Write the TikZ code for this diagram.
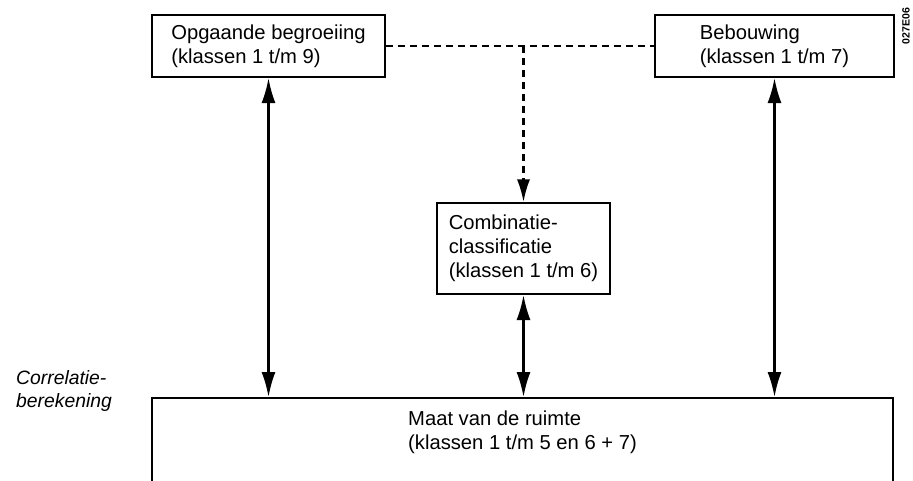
\documentclass[tikz,border=0pt]{standalone}
\usepackage{fontspec}
\setmainfont{Liberation Sans}
\usetikzlibrary{arrows.meta,positioning}

\begin{document}
\begin{tikzpicture}[
    box/.style={draw,line width=1.2pt,align=left,inner sep=0pt,font=\fontsize{11.5}{13.6}\selectfont},
    tweezijdig/.style={line width=1.2pt,{Latex[length=5mm,width=2.8mm]}-{Latex[length=5mm,width=2.8mm]}},
    stippel/.style={line width=1.2pt,dash pattern=on 1.4mm off 1mm}]
  \useasboundingbox (0,0) rectangle (18.26,-9.6);
  % bronkaarten bovenaan
  \node[box,minimum width=4.66cm,minimum height=1.24cm] (opg) at (5.37,-0.92) {Opgaande begroeiing\\(klassen 1 t/m 9)};
  \node[box,minimum width=4.78cm,minimum height=1.24cm] (beb) at (15.49,-0.92) {Bebouwing\\(klassen 1 t/m 7)};
  \node[rotate=90,font=\fontsize{6}{7}\selectfont\bfseries] (code) at (18.12,-0.52) {027E06};
  % combinatie in het midden
  \node[box,minimum width=3.46cm,minimum height=1.82cm] (comb) at (10.47,-4.97) {Combinatie-\\classificatie\\(klassen 1 t/m 6)};
  % doelkaart onderaan, loopt door buiten beeld
  \node[box,anchor=north,minimum width=14.82cm,inner ysep=0.26cm,text depth=1.6cm] (maat) at (10.45,-7.94) {Maat van de ruimte\\(klassen 1 t/m 5 en 6 + 7)};
  \node[anchor=west,align=left,font=\fontsize{11}{13.6}\selectfont\itshape] (corr) at (0.2,-7.82) {Correlatie-\\berekening};

  \draw[stippel] (opg.east) -- (beb.west);
  \draw[stippel,-{Latex[length=4.5mm,width=2.6mm]}] (opg.east -| comb.north) -- (comb.north);
  \draw[tweezijdig] (opg.south) -- (opg.south |- maat.north);
  \draw[tweezijdig] (beb.south) -- (beb.south |- maat.north);
  \draw[tweezijdig] (comb.south) -- (comb.south |- maat.north);
\end{tikzpicture}
\end{document}
